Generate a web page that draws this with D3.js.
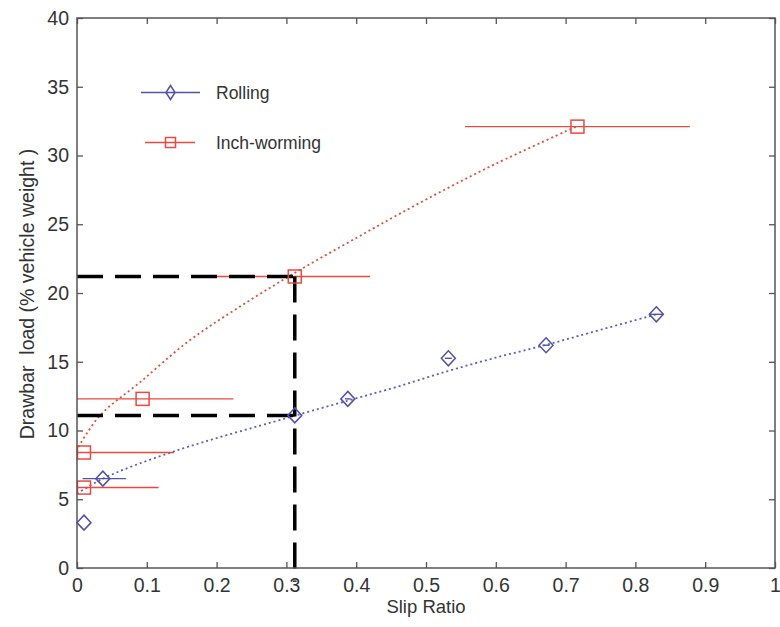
<!DOCTYPE html>
<html><head><meta charset="utf-8">
<script src="https://cdn.jsdelivr.net/npm/d3@7"></script>
<style>
html,body{margin:0;padding:0;background:#fff;}
svg text{font-family:"Liberation Sans",Arial,sans-serif;fill:#333;}
</style></head>
<body>
<svg id="c" width="780" height="627"></svg>
<script>
// ---- data ----
const rollX = [0.01, 0.037, 0.312, 0.388, 0.532, 0.672, 0.83];
const rollY = [3.3, 6.5, 11.1, 12.3, 15.25, 16.2, 18.45];
const rollErrLo = [null, 0.008, null, 0.384, 0.527, 0.667, 0.82];
const rollErrHi = [null, 0.070, null, 0.392, 0.537, 0.677, 0.84];

const inchX = [0.01, 0.01, 0.094, 0.312, 0.717];
const inchY = [5.85, 8.4, 12.3, 21.2, 32.1];
const inchErrLo = [0, 0, 0, 0.2, 0.556];
const inchErrHi = [0.117, 0.139, 0.224, 0.42, 0.878];

const rollFitX = [0, 0.037, 0.14, 0.30, 0.39, 0.46, 0.53, 0.60, 0.67, 0.72, 0.83];
const rollFitY = [5.4, 6.5, 8.5, 10.9, 12.2, 13.2, 14.3, 15.3, 16.2, 16.9, 18.45];

const inchFitX = [0.002, 0.033, 0.09, 0.16, 0.23, 0.31, 0.40, 0.46, 0.53, 0.60, 0.715];
const inchFitY = [8.8, 11.1, 13.5, 16.5, 18.9, 21.4, 24.0, 25.7, 27.6, 29.4, 32.1];

const guideX = 0.312;
const guideY = [21.2, 11.1];

const xTicks = [0, 0.1, 0.2, 0.3, 0.4, 0.5, 0.6, 0.7, 0.8, 0.9, 1];
const xTickLabels = ["0", "0.1", "0.2", "0.3", "0.4", "0.5", "0.6", "0.7", "0.8", "0.9", "1"];
const yTicks = [0, 5, 10, 15, 20, 25, 30, 35, 40];
const yTickLabels = ["0", "5", "10", "15", "20", "25", "30", "35", "40"];

const seriesNames = ["Rolling", "Inch-worming"];

// ---- styles ----
const BLUE = "#5252ab", BLUE_DOT = "#5d5dbf", RED = "#e84a40";
const svg = d3.select("#c");
const L = 77, R = 775, T = 18, B = 568;
const x = d3.scaleLinear().domain([0, 1]).range([L, R]);
const y = d3.scaleLinear().domain([0, 40]).range([B, T]);

svg.append("rect").attr("x", L).attr("y", T).attr("width", R - L).attr("height", B - T).attr("fill", "#fff");

// axes with inward ticks
const tickCol = "#555";
function styleAxis(g) {
  g.select(".domain").remove();
  g.selectAll(".tick line").attr("stroke", tickCol).attr("stroke-width", 1.3);
  g.selectAll(".tick text").style("font-size", "19.5px").attr("fill", "#333");
}
svg.append("g").attr("transform", `translate(0,${B})`)
  .call(d3.axisBottom(x).tickValues(xTicks).tickFormat((d, i) => xTickLabels[i]).tickSizeInner(-6).tickSizeOuter(0).tickPadding(10))
  .call(styleAxis);
svg.append("g").attr("transform", `translate(0,${T})`)
  .call(d3.axisTop(x).tickValues(xTicks).tickFormat("").tickSizeInner(-6).tickSizeOuter(0))
  .call(styleAxis);
svg.append("g").attr("transform", `translate(${L},0)`)
  .call(d3.axisLeft(y).tickValues(yTicks).tickFormat((d, i) => yTickLabels[i]).tickSizeInner(-6).tickSizeOuter(0).tickPadding(8))
  .call(styleAxis);
svg.append("g").attr("transform", `translate(${R},0)`)
  .call(d3.axisRight(y).tickValues(yTicks).tickFormat("").tickSizeInner(-6).tickSizeOuter(0))
  .call(styleAxis);

// fit curves (dotted)
const line = d3.line().x(d => x(d[0])).y(d => y(d[1])).curve(d3.curveCatmullRom.alpha(0.5));
svg.append("path").datum(inchFitX.map((v, i) => [v, inchFitY[i]]))
  .attr("d", line).attr("fill", "none").attr("stroke", RED).attr("stroke-width", 1.8).attr("stroke-dasharray", "2,3");
svg.append("path").datum(rollFitX.map((v, i) => [v, rollFitY[i]]))
  .attr("d", line).attr("fill", "none").attr("stroke", BLUE_DOT).attr("stroke-width", 1.8).attr("stroke-dasharray", "2,3");

// error bars
inchX.forEach((v, i) => {
  svg.append("line").attr("x1", x(inchErrLo[i])).attr("x2", x(inchErrHi[i]))
    .attr("y1", y(inchY[i])).attr("y2", y(inchY[i])).attr("stroke", RED).attr("stroke-width", 1.4);
});
rollX.forEach((v, i) => {
  if (rollErrLo[i] == null) return;
  svg.append("line").attr("x1", x(rollErrLo[i])).attr("x2", x(rollErrHi[i]))
    .attr("y1", y(rollY[i])).attr("y2", y(rollY[i])).attr("stroke", BLUE).attr("stroke-width", 1.4);
});

// black dashed guide lines
const dash = "26,12";
guideY.forEach(g => {
  svg.append("line").attr("x1", x(0)).attr("x2", x(guideX)).attr("y1", y(g)).attr("y2", y(g))
    .attr("stroke", "#000").attr("stroke-width", 3.5).attr("stroke-dasharray", dash);
});
svg.append("line").attr("x1", x(guideX)).attr("x2", x(guideX)).attr("y1", y(guideY[0])).attr("y2", y(-1))
  .attr("stroke", "#000").attr("stroke-width", 3.5).attr("stroke-dasharray", dash);

// markers
function diamond(g, cx, cy, w, h, col) {
  g.append("path").attr("d", `M${cx},${cy - h / 2}L${cx + w / 2},${cy}L${cx},${cy + h / 2}L${cx - w / 2},${cy}Z`)
    .attr("fill", "none").attr("stroke", col).attr("stroke-width", 1.5);
}
function square(g, cx, cy, s, col) {
  g.append("rect").attr("x", cx - s / 2).attr("y", cy - s / 2).attr("width", s).attr("height", s)
    .attr("fill", "none").attr("stroke", col).attr("stroke-width", 1.5);
}
rollX.forEach((v, i) => diamond(svg, x(v), y(rollY[i]), 14, 15, BLUE));
inchX.forEach((v, i) => square(svg, x(v), y(inchY[i]), 13, RED));

// border box
svg.append("rect").attr("x", L).attr("y", T).attr("width", R - L).attr("height", B - T)
  .attr("fill", "none").attr("stroke", "#555").attr("stroke-width", 1.5);

// legend
const lg = svg.append("g");
lg.append("line").attr("x1", 141).attr("x2", 200).attr("y1", 92.5).attr("y2", 92.5).attr("stroke", BLUE).attr("stroke-width", 1.5);
diamond(lg, 170.5, 92.5, 9, 14, BLUE);
lg.append("text").attr("x", 216).attr("y", 92.5).attr("dy", "0.35em").style("font-size", "17.5px").text(seriesNames[0]);
lg.append("line").attr("x1", 145).attr("x2", 195).attr("y1", 142.5).attr("y2", 142.5).attr("stroke", RED).attr("stroke-width", 1.5);
square(lg, 170.5, 142.5, 10, RED);
lg.append("text").attr("x", 216).attr("y", 142.5).attr("dy", "0.35em").style("font-size", "17.5px").text(seriesNames[1]);

// axis titles
svg.append("text").attr("x", (L + R) / 2).attr("y", 613).attr("text-anchor", "middle").style("font-size", "18.5px").text("Slip Ratio");
svg.append("text").attr("transform", "translate(27,294) rotate(-90)").attr("text-anchor", "middle").attr("dy", "0.35em")
  .style("font-size", "19.5px").style("white-space", "pre").attr("xml:space", "preserve").text("Drawbar  load (% vehicle weight )");
</script>
</body></html>
